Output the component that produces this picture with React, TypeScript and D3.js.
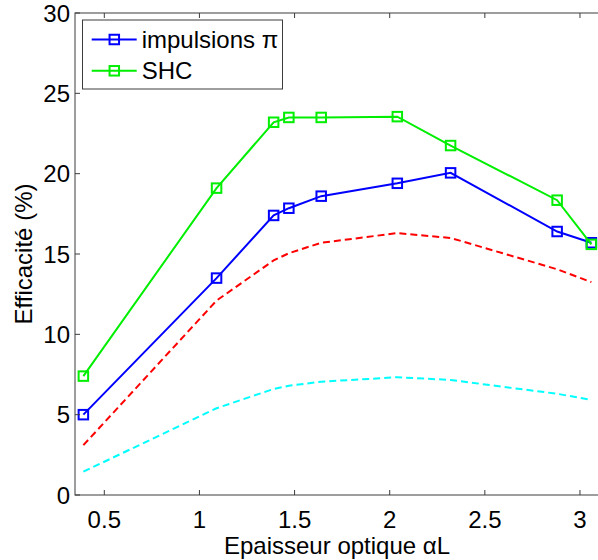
import React from "react";
import * as d3 from "d3";

const xVals = [0.39, 1.09, 1.39, 1.47, 1.64, 2.04, 2.32, 2.88, 3.06];
const impulsions = [5.0, 13.5, 17.4, 17.85, 18.6, 19.4, 20.05, 16.4, 15.7];
const shc = [7.4, 19.1, 23.2, 23.5, 23.5, 23.55, 21.75, 18.35, 15.6];
const redCurve = [3.1, 12.1, 14.6, 15.05, 15.7, 16.3, 16.0, 14.05, 13.25];
const cyanCurve = [1.45, 5.4, 6.6, 6.8, 7.05, 7.33, 7.16, 6.3, 5.92];
const xTicks = [0.5, 1, 1.5, 2, 2.5, 3];
const yTicks = [0, 5, 10, 15, 20, 25, 30];
const legendLabels = ["impulsions π", "SHC"];

const W = 598;
const H = 560;
const left = 75;
const right = 599;
const top = 13;
const bottom = 495;
const FONT = "'Liberation Sans', Arial, sans-serif";
const AX = "#3c3c3c";

export default function App() {
  const x = d3.scaleLinear().domain([0.346, 3.1]).range([left, right]);
  const y = d3.scaleLinear().domain([0, 30]).range([bottom, top]);
  const line = d3
    .line<[number, number]>()
    .x((d) => x(d[0]))
    .y((d) => y(d[1]));
  const pts = (arr: number[]) => xVals.map((v, i) => [v, arr[i]] as [number, number]);

  const series = [
    { data: impulsions, color: "#0000ff" },
    { data: shc, color: "#00ee00" },
  ];

  const ms = 9.5;

  return (
    <svg
      width={W}
      height={H}
      style={{ position: "absolute", left: 0, top: 0, background: "#fff" }}
      fontFamily={FONT}
    >
      <rect x={0} y={0} width={W} height={H} fill="#fff" />
      {/* dashed curves */}
      <path d={line(pts(redCurve)) || ""} fill="none" stroke="#ff0000" strokeWidth={2} strokeDasharray="7,4" />
      <path d={line(pts(cyanCurve)) || ""} fill="none" stroke="#00ffff" strokeWidth={2} strokeDasharray="7,4" />
      {series.map((s, k) => (
        <g key={k}>
          <path d={line(pts(s.data)) || ""} fill="none" stroke={s.color} strokeWidth={2} />
          {pts(s.data).map((p, i) => (
            <rect
              key={i}
              x={x(p[0]) - ms / 2}
              y={y(p[1]) - ms / 2}
              width={ms}
              height={ms}
              fill="none"
              stroke={s.color}
              strokeWidth={2}
            />
          ))}
        </g>
      ))}
      {/* axes box */}
      <rect x={left} y={top} width={right - left} height={bottom - top} fill="none" stroke={AX} strokeWidth={1} />
      {xTicks.map((t) => (
        <g key={t}>
          <line x1={x(t)} x2={x(t)} y1={bottom} y2={bottom - 5} stroke={AX} />
          <line x1={x(t)} x2={x(t)} y1={top} y2={top + 5} stroke={AX} />
          <text x={x(t)} y={528} textAnchor="middle" fontSize={24} fill="#000">
            {t}
          </text>
        </g>
      ))}
      {yTicks.map((t) => (
        <g key={t}>
          <line x1={left} x2={left + 5} y1={y(t)} y2={y(t)} stroke={AX} />
          <text x={70} y={y(t) + 8.5} textAnchor="end" fontSize={24} fill="#000">
            {t}
          </text>
        </g>
      ))}
      <text x={(left + right) / 2} y={554} textAnchor="middle" fontSize={24} fill="#000">
        Epaisseur optique αL
      </text>
      <text
        transform={`translate(31.5, ${(top + bottom) / 2}) rotate(-90)`}
        textAnchor="middle"
        fontSize={24}
        fill="#000"
      >
        Efficacité (%)
      </text>
      {/* legend */}
      <rect x={82.5} y={20} width={200} height={69} fill="#fff" stroke={AX} strokeWidth={1} />
      {series.map((s, k) => {
        const ly = 39.5 + k * 31.3;
        return (
          <g key={k}>
            <line x1={91.7} x2={136.7} y1={ly} y2={ly} stroke={s.color} strokeWidth={2} />
            <rect x={114.3 - ms / 2} y={ly - ms / 2} width={ms} height={ms} fill="none" stroke={s.color} strokeWidth={2} />
            <text x={141.7} y={ly + 8.5} fontSize={24} fill="#000">
              {legendLabels[k]}
            </text>
          </g>
        );
      })}
    </svg>
  );
}
